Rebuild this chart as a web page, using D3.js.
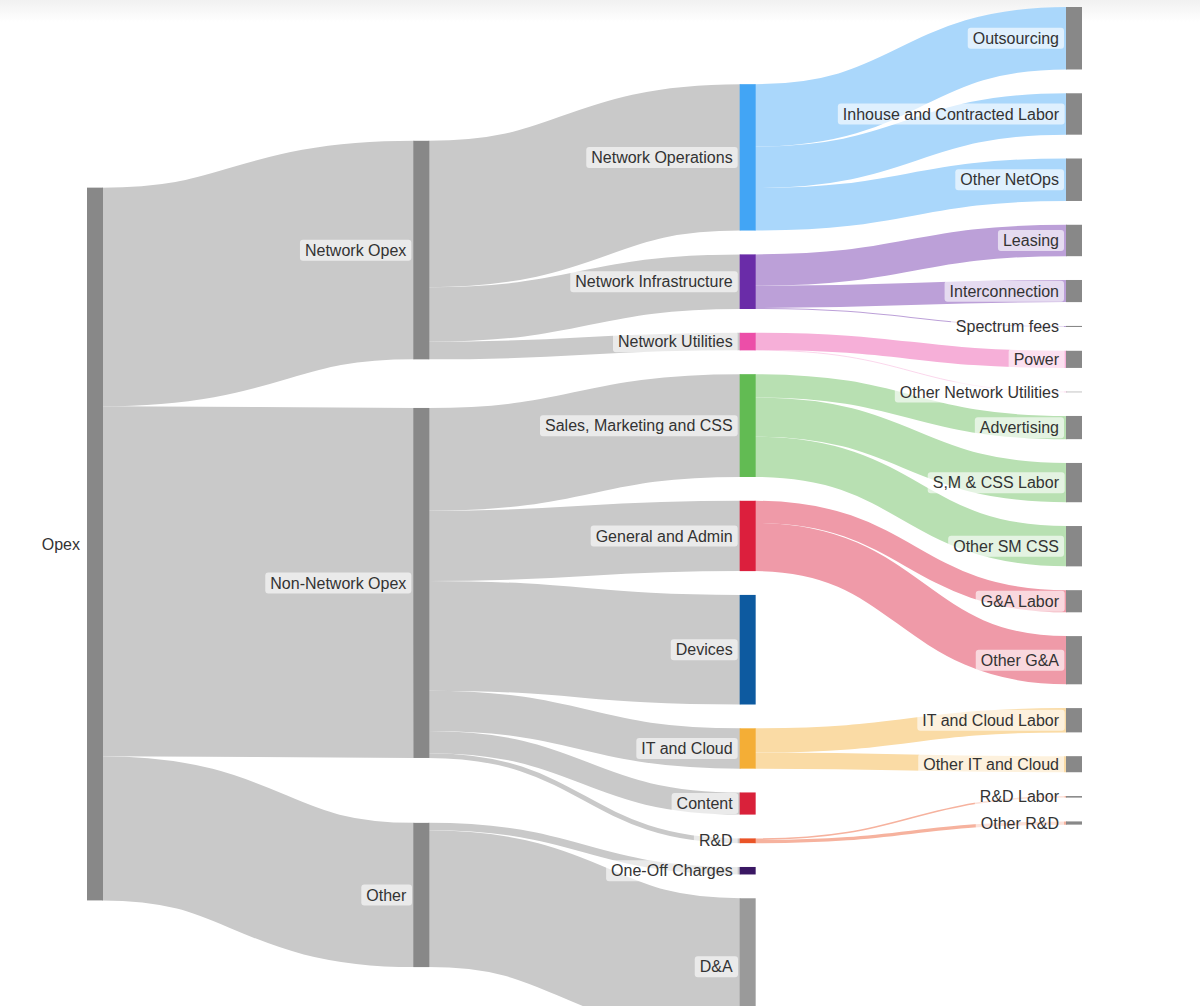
<!DOCTYPE html>
<html>
<head>
<meta charset="utf-8">
<script src="https://cdn.jsdelivr.net/npm/d3@7"></script>
<style>
  html, body { margin: 0; padding: 0; background: #fff; }
  svg { display: block; font-family: "Liberation Sans", Arial, sans-serif; }
</style>
</head>
<body>
<div id="chart"></div>
<script>
// Opex breakdown, share of total Opex (%)
const nodeNames = [
  "Opex",
  "Network Opex", "Non-Network Opex", "Other",
  "Network Operations", "Network Infrastructure", "Network Utilities",
  "Sales, Marketing and CSS", "General and Admin", "Devices", "IT and Cloud",
  "Content", "R&D", "One-Off Charges", "D&A",
  "Outsourcing", "Inhouse and Contracted Labor", "Other NetOps",
  "Leasing", "Interconnection", "Spectrum fees",
  "Power", "Other Network Utilities",
  "Advertising", "S,M & CSS Labor", "Other SM CSS",
  "G&A Labor", "Other G&A",
  "IT and Cloud Labor", "Other IT and Cloud",
  "R&D Labor", "Other R&D"
];

const opexLinks = [
  ["Opex", "Network Opex", 30.61],
  ["Opex", "Non-Network Opex", 49.02],
  ["Opex", "Other", 20.2]
];

const networkLinks = [
  ["Network Opex", "Network Operations", 20.5],
  ["Network Opex", "Network Infrastructure", 7.65],
  ["Network Opex", "Network Utilities", 2.46]
];

const nonNetworkLinks = [
  ["Non-Network Opex", "Sales, Marketing and CSS", 14.4],
  ["Non-Network Opex", "General and Admin", 9.85],
  ["Non-Network Opex", "Devices", 15.35],
  ["Non-Network Opex", "IT and Cloud", 5.65],
  ["Non-Network Opex", "Content", 3.1],
  ["Non-Network Opex", "R&D", 0.67]
];

const otherLinks = [
  ["Other", "One-Off Charges", 1.05],
  ["Other", "D&A", 19.15]
];

const detailLinks = [
  ["Network Operations", "Outsourcing", 8.75],
  ["Network Operations", "Inhouse and Contracted Labor", 5.8],
  ["Network Operations", "Other NetOps", 5.95],
  ["Network Infrastructure", "Leasing", 4.4],
  ["Network Infrastructure", "Interconnection", 3.1],
  ["Network Infrastructure", "Spectrum fees", 0.15],
  ["Network Utilities", "Power", 2.4],
  ["Network Utilities", "Other Network Utilities", 0.06],
  ["Sales, Marketing and CSS", "Advertising", 3.25],
  ["Sales, Marketing and CSS", "S,M & CSS Labor", 5.5],
  ["Sales, Marketing and CSS", "Other SM CSS", 5.65],
  ["General and Admin", "G&A Labor", 3.1],
  ["General and Admin", "Other G&A", 6.75],
  ["IT and Cloud", "IT and Cloud Labor", 3.4],
  ["IT and Cloud", "Other IT and Cloud", 2.25],
  ["R&D", "R&D Labor", 0.22],
  ["R&D", "Other R&D", 0.45]
];

const nodeColors = {
  "Network Operations": "#42a5f5",
  "Network Infrastructure": "#6a2ca8",
  "Network Utilities": "#ec4ea8",
  "Sales, Marketing and CSS": "#62bb53",
  "General and Admin": "#dc1f3d",
  "Devices": "#0d5aa0",
  "IT and Cloud": "#f4ae36",
  "Content": "#d9213a",
  "R&D": "#ea5427",
  "One-Off Charges": "#3a1763",
  "D&A": "#9a9a9a"
};
const defaultNodeColor = "#888888";

const width = 1200;
const height = 1006;
// the diagram runs a little past the bottom of the window
const margin = { top: 7, right: 118, bottom: -29, left: 87 };
const nodeWidth = 16;
const nodePadding = 23.8;
const iterations = 120;

const valueScale = d3.scaleLinear().domain([0, 100]).range([0, 714]);

function sankeyLayout(names, linkRows) {
  const x0 = margin.left, y0 = margin.top;
  const x1 = width - margin.right, y1 = height - margin.bottom;

  const nodes = names.map((name, index) => ({ name, index, sourceLinks: [], targetLinks: [] }));
  const byName = new Map(nodes.map((d) => [d.name, d]));
  const links = linkRows.map(([s, t, value]) => ({
    source: byName.get(s), target: byName.get(t), value, width: valueScale(value)
  }));
  for (const l of links) {
    l.source.sourceLinks.push(l);
    l.target.targetLinks.push(l);
  }
  for (const n of nodes) {
    n.value = Math.max(d3.sum(n.sourceLinks, (l) => l.value), d3.sum(n.targetLinks, (l) => l.value));
  }

  // column = number of steps from the root
  let current = new Set(nodes), next = new Set(), depth = 0;
  while (current.size) {
    for (const n of current) {
      n.depth = depth;
      for (const l of n.sourceLinks) next.add(l.target);
    }
    depth++;
    current = next;
    next = new Set();
  }

  const kx = (x1 - x0 - nodeWidth) / (depth - 1);
  const columns = d3.range(depth).map(() => []);
  for (const n of nodes) {
    n.x0 = x0 + n.depth * kx;
    n.x1 = n.x0 + nodeWidth;
    columns[n.depth].push(n);
  }

  // start with every column stacked from the top
  for (const col of columns) {
    let y = y0;
    for (const n of col) {
      n.y0 = y;
      n.y1 = y + valueScale(n.value);
      y = n.y1 + nodePadding;
    }
  }

  const offset = (list, link) => {
    let off = 0;
    for (const l of list) {
      if (l === link) break;
      off += l.width;
    }
    return off;
  };

  // node top that would make the incoming links flat
  function fromLeft(n) {
    if (!n.targetLinks.length) return null;
    return d3.sum(n.targetLinks, (l) =>
      (l.source.y0 + offset(l.source.sourceLinks, l) - offset(n.targetLinks, l)) * l.value
    ) / d3.sum(n.targetLinks, (l) => l.value);
  }

  // node top that would make the outgoing links flat
  function fromRight(n) {
    if (!n.sourceLinks.length) return null;
    return d3.sum(n.sourceLinks, (l) =>
      (l.target.y0 + offset(l.target.targetLinks, l) - offset(n.sourceLinks, l)) * l.value
    ) / d3.sum(n.sourceLinks, (l) => l.value);
  }

  function resolveCollisions(col) {
    let y = y0;
    for (const n of col) {
      const dy = y - n.y0;
      if (dy > 0) { n.y0 += dy; n.y1 += dy; }
      y = n.y1 + nodePadding;
    }
    const over = col[col.length - 1].y1 - y1;
    if (over > 0) {
      let limit = y1;
      for (let i = col.length - 1; i >= 0; --i) {
        const n = col[i];
        const dy = n.y1 - limit;
        if (dy > 0) { n.y0 -= dy; n.y1 -= dy; }
        limit = n.y0 - nodePadding;
      }
    }
  }

  // relax the inner columns; the terminal column stays stacked from the top
  for (let it = 0; it < iterations; ++it) {
    for (let c = 0; c < columns.length - 1; ++c) {
      const col = columns[c];
      for (const n of col) {
        const ideals = [fromLeft(n), fromRight(n)].filter((v) => v !== null);
        const dy = d3.mean(ideals) - n.y0;
        n.y0 += dy;
        n.y1 += dy;
      }
      resolveCollisions(col);
    }
  }

  for (const n of nodes) {
    let sy = n.y0, ty = n.y0;
    for (const l of n.sourceLinks) { l.y0 = sy + l.width / 2; sy += l.width; }
    for (const l of n.targetLinks) { l.y1 = ty + l.width / 2; ty += l.width; }
  }

  return { nodes, links };
}

const allLinks = [...opexLinks, ...networkLinks, ...nonNetworkLinks, ...otherLinks, ...detailLinks];
const graph = sankeyLayout(nodeNames, allLinks);

const nodeColor = (n) => nodeColors[n.name] || defaultNodeColor;
const linkColor = (l) => d3.interpolateRgb(nodeColor(l.source), "#ffffff")(0.55);

const svg = d3.select("#chart")
  .append("svg")
  .attr("width", width)
  .attr("height", height);

const defs = svg.append("defs");
const topFade = defs.append("linearGradient")
  .attr("id", "top-fade")
  .attr("x1", 0).attr("y1", 0).attr("x2", 0).attr("y2", 1);
topFade.append("stop").attr("offset", "0%").attr("stop-color", "#f1f1f1");
topFade.append("stop").attr("offset", "100%").attr("stop-color", "#ffffff");

svg.append("rect")
  .attr("width", width)
  .attr("height", 22)
  .attr("fill", "url(#top-fade)");

// links run 1px under the node bars so no seam shows at the joints
svg.append("g")
  .attr("fill", "none")
  .selectAll("path")
  .data(graph.links)
  .join("path")
  .attr("d", d3.linkHorizontal()
    .source((d) => [d.source.x1 - 1, d.y0])
    .target((d) => [d.target.x0 + 1, d.y1]))
  .attr("stroke", linkColor)
  .attr("stroke-width", (d) => Math.max(0.5, d.width));

svg.append("g")
  .selectAll("rect")
  .data(graph.nodes)
  .join("rect")
  .attr("x", (d) => d.x0)
  .attr("y", (d) => d.y0)
  .attr("width", (d) => d.x1 - d.x0)
  .attr("height", (d) => Math.max(0.5, d.y1 - d.y0))
  .attr("fill", nodeColor);

const labels = svg.append("g")
  .attr("font-size", 16)
  .attr("fill", "#333")
  .selectAll("g")
  .data(graph.nodes)
  .join("g");

labels.append("text")
  .attr("x", (d) => d.x0 - 7)
  .attr("y", (d) => (d.y0 + d.y1) / 2)
  .attr("dy", "0.35em")
  .attr("text-anchor", "end")
  .text((d) => d.name);

labels.each(function () {
  const g = d3.select(this);
  const box = g.select("text").node().getBBox();
  g.insert("rect", "text")
    .attr("x", box.x - 5)
    .attr("y", box.y - 2)
    .attr("width", box.width + 10)
    .attr("height", box.height + 4)
    .attr("rx", 3)
    .attr("fill", "#fff")
    .attr("fill-opacity", 0.62);
});
</script>
</body>
</html>
